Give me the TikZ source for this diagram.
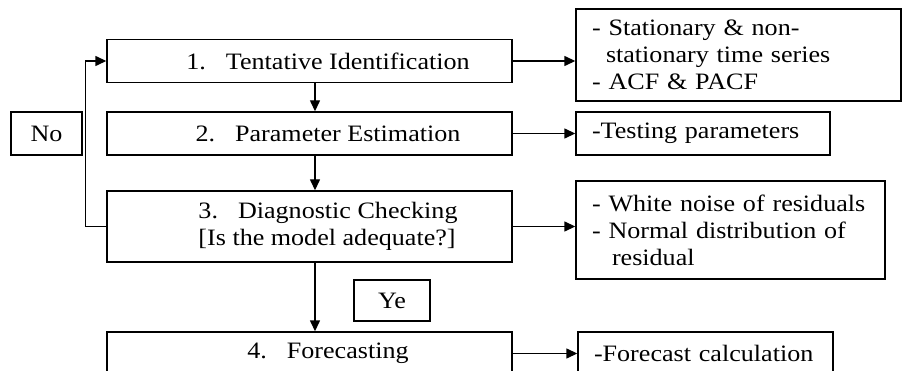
\documentclass[tikz,border=0pt]{standalone}
\usepackage{fontspec}
\setmainfont{Liberation Serif}[FakeStretch=1.11]
\usetikzlibrary{arrows.meta}

\begin{document}
\begin{tikzpicture}[x=1pt, y=-1pt, line width=1.4pt,
    every node/.style={font=\fontsize{23.5}{27}\selectfont},
    stage/.style={draw, minimum width=405pt, minimum height=43pt, inner sep=0pt},
    note/.style={draw, align=left, inner xsep=16pt, inner ysep=0pt},
    arr/.style={-{Triangle[length=11pt, width=10pt]}}]
    \clip (0,0) rectangle (902,371);
    \node[stage] (ident) at (309.5, 61) {\hspace*{37pt}1.\hspace{20pt}Tentative Identification};
    \node[stage] (estim) at (309.5, 133.5) {\hspace*{37pt}2.\hspace{20pt}Parameter Estimation};
    \node[stage, minimum height=71pt, align=left] (check) at (309.5, 226.5)
        {\hspace*{37pt}3.\hspace{20pt}Diagnostic Checking\\\hspace*{37pt}{[Is the model adequate?]}};
    \node[stage] (fcast) at (309.5, 353.5) {\hspace*{37pt}4.\hspace{20pt}Forecasting};
    \node[draw, minimum width=71pt, minimum height=43pt, inner sep=0pt] (no) at (46.5, 133.5) {No};
    \node[draw, minimum width=76pt, minimum height=41pt, inner sep=0pt] (yes) at (392, 300.5) {Ye};
    % notes on the right
    \node[note, text width=293pt, minimum height=92pt] (n1) at (738.5, 55)
        {- Stationary \& non-\\\hspace*{14pt}stationary time series\\- ACF \& PACF};
    \node[note, text width=222pt, minimum height=43pt] (n2) at (703, 133.5) {-Testing parameters};
    \node[note, text width=277pt, minimum height=98pt] (n3) at (730.5, 230)
        {- White noise of residuals\\- Normal distribution of\\\hspace*{20pt}residual};
    \node[note, text width=223pt, minimum height=43pt] (n4) at (705.5, 353.5) {-Forecast calculation};
    % main flow
    \draw[arr] ([xshift=5.5pt]ident.south) -- ([xshift=5.5pt]estim.north);
    \draw[arr] ([xshift=5.5pt]estim.south) -- ([xshift=5.5pt]check.north);
    \draw[arr] ([xshift=5.5pt]check.south) -- ([xshift=5.5pt]fcast.north);
    \draw[arr] (check.west) -- ++(-21,0) |- (ident.west);
    % to the notes
    \draw[arr] (ident.east) -- (ident.east -| n1.west);
    \draw[arr] (estim.east) -- (estim.east -| n2.west);
    \draw[arr] (check.east) -- (check.east -| n3.west);
    \draw[arr] (fcast.east) -- (fcast.east -| n4.west);
\end{tikzpicture}
\end{document}
